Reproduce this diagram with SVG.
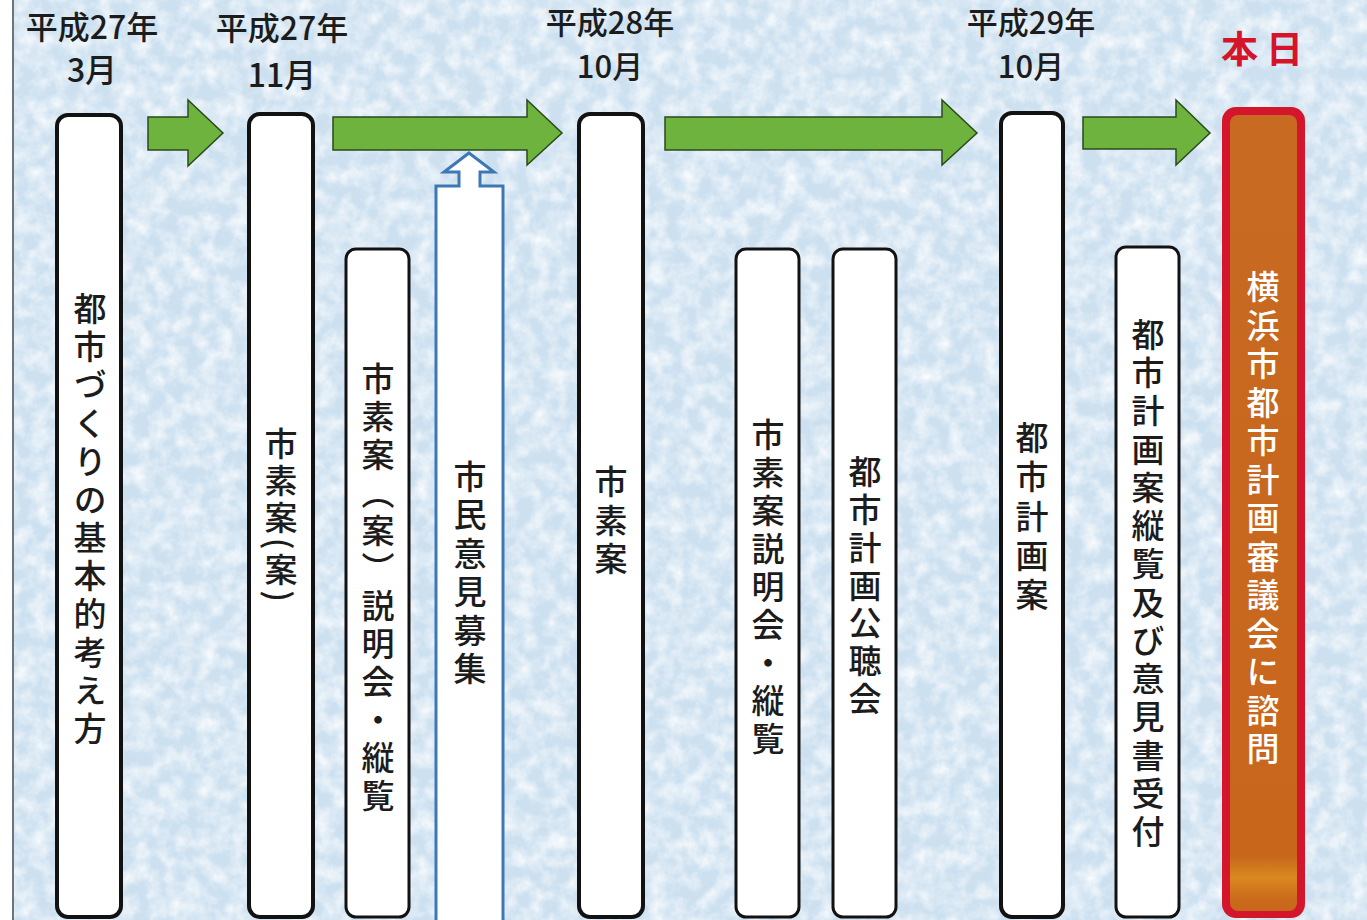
<svg xmlns="http://www.w3.org/2000/svg" width="1367" height="920" viewBox="0 0 1367 920">
<defs>
<style>
.hdr{font-family:"Noto Sans CJK JP","Noto Sans",sans-serif;font-size:32px;font-weight:500;fill:#1c1c1c;text-anchor:middle}
.hdr2{font-family:"Noto Sans CJK JP","Noto Sans",sans-serif;font-size:31px;font-weight:500;fill:#1c1c1c;text-anchor:middle}
.v{font-family:"Noto Sans CJK JP",sans-serif;font-size:33px;font-weight:500;fill:#1c1c1c;writing-mode:vertical-rl}
.box{fill:#ffffff;stroke:#121212;stroke-width:4}
.box2{fill:#ffffff;stroke:#121212;stroke-width:3}
.garrow{fill:#6db33e;stroke:#2b4a1c;stroke-width:1.5;stroke-linejoin:miter}
</style>
<filter id="mottle" x="0" y="0" width="100%" height="100%">
<feTurbulence type="fractalNoise" baseFrequency="0.06" numOctaves="4" seed="11" result="n"/>
<feColorMatrix in="n" type="matrix" values="0 0 0 0 1  0 0 0 0 1  0 0 0 0 1  0 0 0 1.5 -0.5" result="w"/>
<feComposite in="w" in2="SourceGraphic" operator="in"/>
</filter>
<linearGradient id="redfill" x1="0" y1="0" x2="0" y2="1">
<stop offset="0" stop-color="#c86a22"/>
<stop offset="0.93" stop-color="#c8661c"/>
<stop offset="0.958" stop-color="#d8891f"/>
<stop offset="0.985" stop-color="#cb6a1c"/>
<stop offset="1" stop-color="#c8661c"/>
</linearGradient>
</defs>
<rect x="0" y="0" width="1367" height="920" fill="#ffffff"/>
<rect x="13" y="0" width="1354" height="920" fill="#cce0f0"/>
<rect x="13" y="0" width="1354" height="920" fill="#cce0f0" filter="url(#mottle)"/>
<line x1="13" y1="0" x2="13" y2="920" stroke="#6d747a" stroke-width="2"/>

<g id="headers">
<text class="hdr"><tspan x="92" y="39">平成27年</tspan><tspan x="92" y="82">3月</tspan></text>
<text class="hdr"><tspan x="282" y="40">平成27年</tspan><tspan x="282" y="87">11月</tspan></text>
<text class="hdr2"><tspan x="610" y="34">平成28年</tspan><tspan x="610" y="78">10月</tspan></text>
<text class="hdr2"><tspan x="1031" y="34">平成29年</tspan><tspan x="1031" y="78">10月</tspan></text>
<text x="1266" y="63" font-family="Noto Sans CJK JP, sans-serif" font-size="37" font-weight="bold" fill="#d5142a" text-anchor="middle" letter-spacing="8">本日</text>
</g>

<g id="connectors">
<path class="garrow" d="M148,117 H188 V100 L223,133 L188,166 V150 H148 Z"/>
<path class="garrow" d="M333,117 H527 V100 L562,133 L527,165 V150 H333 Z"/>
<path class="garrow" d="M665,117 H942 V100 L977,133 L942,165 V150 H665 Z"/>
<path class="garrow" d="M1083,117 H1176 V100 L1210,133 L1176,165 V149 H1083 Z"/>
</g>

<g id="n1"><rect class="box" x="57" y="115" width="64" height="802" rx="11"/>
<text class="v" x="90" y="292" textLength="453" lengthAdjust="spacing">都市づくりの基本的考え方</text></g>

<g id="n2"><rect class="box" x="249" y="114" width="64" height="803" rx="11"/>
<text class="v" x="281" y="427" textLength="175" lengthAdjust="spacing">市素案(案)</text></g>

<g id="n3"><rect class="box2" x="346" y="249" width="63" height="668" rx="10"/>
<text class="v" x="378" y="362" textLength="450" lengthAdjust="spacing">市素案（案）説明会・縦覧</text></g>

<g id="n4"><path d="M469,153 L494,172 L480,172 L480,186 L503,186 L503,930 L436,930 L436,186 L459,186 L459,172 L444,172 Z" fill="#ffffff" stroke="#3d78b5" stroke-width="3" stroke-linejoin="miter"/>
<text class="v" x="470" y="460" textLength="225" lengthAdjust="spacing">市民意見募集</text></g>

<g id="n5"><rect class="box" x="579" y="114" width="64" height="803" rx="11"/>
<text class="v" x="611" y="465" textLength="110" lengthAdjust="spacing">市素案</text></g>

<g id="n6"><rect class="box2" x="736" y="249" width="63" height="668" rx="10"/>
<text class="v" x="768" y="418" textLength="337" lengthAdjust="spacing">市素案説明会・縦覧</text></g>

<g id="n7"><rect class="box2" x="833" y="249" width="63" height="668" rx="10"/>
<text class="v" x="865" y="455" textLength="260" lengthAdjust="spacing">都市計画公聴会</text></g>

<g id="n8"><rect class="box" x="1001" y="113" width="62" height="804" rx="11"/>
<text class="v" x="1032" y="421" textLength="190" lengthAdjust="spacing">都市計画案</text></g>

<g id="n9"><rect class="box2" x="1116" y="247" width="63" height="670" rx="10"/>
<text class="v" x="1148" y="318" textLength="530" lengthAdjust="spacing">都市計画案縦覧及び意見書受付</text></g>

<g id="n10"><rect x="1222" y="107" width="83" height="811" rx="14" fill="#d3162c"/>
<rect x="1230" y="115" width="67" height="796" rx="8" fill="url(#redfill)"/>
<text class="v" x="1263" y="270" textLength="495" lengthAdjust="spacing" style="fill:#ffffff">横浜市都市計画審議会に諮問</text></g>
</svg>
